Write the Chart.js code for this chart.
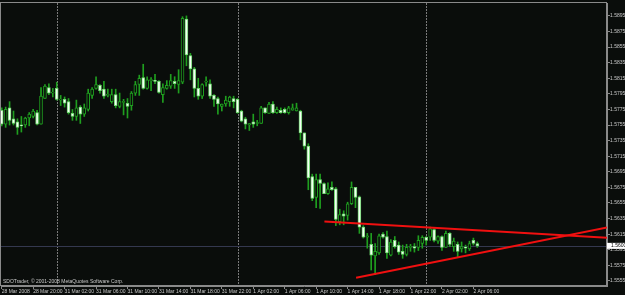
<!DOCTYPE html>
<html>
<head>
<meta charset="utf-8">
<script src="https://cdn.jsdelivr.net/npm/chart.js@4/dist/chart.umd.min.js"></script>
<style>
  html, body { margin: 0; padding: 0; background: #0a0d0b; }
</style>
</head>
<body>
<canvas id="chart" width="625" height="295"></canvas>
<script>
// GBPUSD-ish M30 candles (bar 0 = 28 Mar 16:00)
const opens = [1.5774,1.5756,1.5777,1.5763,1.5759,1.5755,1.5755,1.5764,1.5766,1.5771,
  1.5756,1.5789,1.5803,1.5796,1.5802,1.5787,1.5788,1.5785,1.5770,1.5766,
  1.5778,1.5769,1.5775,1.5793,1.5802,1.5806,1.5801,1.5793,1.5785,1.5794,
  1.5779,1.5784,1.5783,1.5780,1.5796,1.5807,1.5816,1.5802,1.5812,1.5812,
  1.5811,1.5794,1.5802,1.5805,1.5811,1.5807,1.5810,1.5891,1.5844,1.5827,
  1.5802,1.5792,1.5810,1.5808,1.5793,1.5789,1.5779,1.5782,1.5785,1.5789,
  1.5788,1.5773,1.5763,1.5755,1.5759,1.5757,1.5757,1.5777,1.5770,1.5782,
  1.5771,1.5774,1.5775,1.5771,1.5774,1.5773,1.5773,1.5745,1.5728,1.5689,
  1.5662,1.5685,1.5680,1.5667,1.5675,1.5673,1.5631,1.5641,1.5639,1.5654,
  1.5675,1.5663,1.5624,1.5611,1.5602,1.5587,1.5591,1.5615,1.5612,1.5588,
  1.5607,1.5601,1.5593,1.5589,1.5598,1.5599,1.5598,1.5603,1.5611,1.5611,
  1.5621,1.5606,1.5612,1.5598,1.5616,1.5599,1.5602,1.5596,1.5598,1.5596,
  1.5607,1.5603];
const highs = [1.5777,1.5778,1.5785,1.5773,1.5763,1.5766,1.5765,1.5771,1.5775,1.5774,
  1.5803,1.5807,1.5808,1.5802,1.5810,1.5793,1.5791,1.5789,1.5775,1.5787,
  1.5780,1.5782,1.5801,1.5803,1.5817,1.5807,1.5811,1.5801,1.5801,1.5801,
  1.5796,1.5788,1.5789,1.5798,1.5811,1.5819,1.5833,1.5817,1.5816,1.5820,
  1.5812,1.5808,1.5812,1.5820,1.5817,1.5826,1.5894,1.5895,1.5847,1.5829,
  1.5815,1.5808,1.5817,1.5813,1.5794,1.5791,1.5782,1.5792,1.5792,1.5792,
  1.5789,1.5774,1.5765,1.5757,1.5769,1.5761,1.5779,1.5777,1.5784,1.5785,
  1.5778,1.5777,1.5777,1.5779,1.5782,1.5783,1.5774,1.5745,1.5731,1.5692,
  1.5692,1.5692,1.5681,1.5681,1.5682,1.5675,1.5647,1.5645,1.5656,1.5682,
  1.5675,1.5664,1.5626,1.5616,1.5616,1.5603,1.5615,1.5617,1.5619,1.5608,
  1.5612,1.5605,1.5601,1.5602,1.5602,1.5603,1.5613,1.5613,1.5612,1.5624,
  1.5622,1.5613,1.5613,1.5619,1.5617,1.5610,1.5605,1.5605,1.5601,1.5606,
  1.5610,1.5605];
const lows = [1.5754,1.5752,1.5755,1.5755,1.5743,1.5746,1.5752,1.5754,1.5764,1.5755,
  1.5756,1.5789,1.5794,1.5791,1.5787,1.5780,1.5778,1.5769,1.5761,1.5761,
  1.5757,1.5766,1.5773,1.5789,1.5801,1.5796,1.5789,1.5791,1.5783,1.5777,
  1.5777,1.5768,1.5764,1.5774,1.5793,1.5793,1.5801,1.5801,1.5799,1.5808,
  1.5796,1.5784,1.5801,1.5802,1.5802,1.5796,1.5808,1.5831,1.5813,1.5791,
  1.5788,1.5789,1.5805,1.5789,1.5779,1.5769,1.5773,1.5779,1.5779,1.5777,
  1.5770,1.5759,1.5750,1.5748,1.5752,1.5754,1.5757,1.5770,1.5770,1.5770,
  1.5770,1.5770,1.5770,1.5769,1.5774,1.5773,1.5736,1.5724,1.5672,1.5658,
  1.5649,1.5648,1.5667,1.5666,1.5671,1.5626,1.5627,1.5627,1.5633,1.5653,
  1.5649,1.5616,1.5610,1.5597,1.5569,1.5563,1.5589,1.5610,1.5584,1.5587,
  1.5597,1.5589,1.5584,1.5587,1.5593,1.5592,1.5594,1.5597,1.5601,1.5607,
  1.5605,1.5603,1.5594,1.5598,1.5599,1.5593,1.5585,1.5592,1.5591,1.5594,
  1.5601,1.5598];
const closes = [1.5756,1.5775,1.5761,1.5757,1.5752,1.5754,1.5764,1.5769,1.5773,1.5756,
  1.5792,1.5805,1.5796,1.5796,1.5788,1.5787,1.5783,1.5771,1.5766,1.5777,
  1.5769,1.5777,1.5796,1.5801,1.5807,1.5799,1.5792,1.5793,1.5794,1.5780,
  1.5785,1.5784,1.5779,1.5796,1.5807,1.5815,1.5802,1.5813,1.5812,1.5811,
  1.5797,1.5803,1.5806,1.5812,1.5808,1.5812,1.5892,1.5845,1.5827,1.5802,
  1.5792,1.5807,1.5810,1.5792,1.5788,1.5782,1.5782,1.5787,1.5791,1.5785,
  1.5771,1.5760,1.5756,1.5757,1.5756,1.5757,1.5777,1.5771,1.5782,1.5771,
  1.5775,1.5771,1.5771,1.5777,1.5777,1.5777,1.5745,1.5728,1.5687,1.5661,
  1.5685,1.5680,1.5667,1.5673,1.5672,1.5634,1.5640,1.5638,1.5654,1.5675,
  1.5662,1.5624,1.5611,1.5613,1.5588,1.5593,1.5613,1.5611,1.5591,1.5605,
  1.5599,1.5592,1.5589,1.5598,1.5599,1.5597,1.5607,1.5611,1.5607,1.5622,
  1.5607,1.5612,1.5598,1.5616,1.5602,1.5606,1.5593,1.5599,1.5597,1.5603,
  1.5603,1.5600];

// axis labels
const xTickBars = [0, 8, 16, 24, 32, 40, 48, 56, 64, 72, 80, 88, 96, 104, 112, 120];
const xTickLabels = ["28 Mar 2008", "28 Mar 20:00", "31 Mar 02:00", "31 Mar 06:00", "31 Mar 10:00",
  "31 Mar 14:00", "31 Mar 18:00", "31 Mar 22:00", "1 Apr 02:00", "1 Apr 06:00", "1 Apr 10:00",
  "1 Apr 14:00", "1 Apr 18:00", "1 Apr 22:00", "2 Apr 02:00", "2 Apr 06:00"];
const yTickValues = [1.5555, 1.5575, 1.5595, 1.5615, 1.5635, 1.5655, 1.5675, 1.5695, 1.5715,
  1.5735, 1.5755, 1.5775, 1.5795, 1.5815, 1.5835, 1.5855, 1.5875, 1.5895];

const daySeparators = [14, 60, 108];   // first bar of each new day
const bidPrice = 1.5600;
const trendUpper = [{x: 82.1, y: 1.56313}, {x: 154, y: 1.56105}];
const trendLower = [{x: 90.15, y: 1.55591}, {x: 154, y: 1.56235}];
const copyright = "SDOTrader, \u00a9 2001-2008 MetaQuotes Software Corp.";

const BG = '#0a0d0b';
const WICK = '#1f9f1f';

const wickData = highs.map((h, i) => ({x: i, y: [lows[i], h]}));
const bodyData = opens.map((o, i) => ({x: i, y: [o, closes[i]]}));
const bodyFill = opens.map((o, i) => closes[i] < o ? '#f4fff4' : BG);
const bodyBorder = opens.map((o, i) => closes[i] < o ? '#70d870' : WICK);

const mt4Decor = {
  id: 'mt4Decor',
  beforeDraw(chart) {
    const ctx = chart.ctx;
    ctx.save();
    ctx.fillStyle = BG;
    ctx.fillRect(0, 0, chart.width, chart.height);
    ctx.restore();
  },
  beforeDatasetsDraw(chart) {
    const {ctx, chartArea: a, scales: {x, y}} = chart;
    ctx.save();
    ctx.lineWidth = 1;
    // period separators
    ctx.strokeStyle = '#7a7a7a';
    ctx.setLineDash([2, 1]);
    daySeparators.forEach(b => {
      const px = Math.round(x.getPixelForValue(b)) + 0.5;
      ctx.beginPath();
      ctx.moveTo(px, a.top);
      ctx.lineTo(px, a.bottom);
      ctx.stroke();
    });
    ctx.setLineDash([]);
    // bid line
    const py = Math.round(y.getPixelForValue(bidPrice)) + 0.5;
    ctx.strokeStyle = '#34384f';
    ctx.beginPath();
    ctx.moveTo(a.left, py);
    ctx.lineTo(a.right, py);
    ctx.stroke();
    // frame
    ctx.strokeStyle = '#8a8a8a';
    ctx.strokeRect(a.left - 0.5, a.top - 0.5, a.width, a.height);
    ctx.restore();
  },
  afterDraw(chart) {
    const {ctx, chartArea: a, scales: {y}} = chart;
    ctx.save();
    ctx.font = '5px "Liberation Sans"';
    ctx.fillStyle = '#c8c8c8';
    ctx.textBaseline = 'middle';
    ctx.fillText(copyright, a.left + 2, a.bottom - 4);
    // current price tag
    const py = y.getPixelForValue(bidPrice);
    ctx.fillStyle = '#ffffff';
    ctx.fillRect(a.right, py - 3, chart.width - a.right, 6);
    ctx.fillStyle = '#000000';
    ctx.fillText(bidPrice.toFixed(4), a.right + 4, py);
    ctx.restore();
  }
};

new Chart(document.getElementById('chart'), {
  type: 'bar',
  data: {
    datasets: [
      {
        type: 'line', data: trendUpper, borderColor: '#f01010', borderWidth: 2,
        pointRadius: 0, order: 0
      },
      {
        type: 'line', data: trendLower, borderColor: '#f01010', borderWidth: 2,
        pointRadius: 0, order: 0
      },
      {
        data: bodyData, backgroundColor: bodyFill, borderColor: bodyBorder,
        borderWidth: 1, borderSkipped: false, barThickness: 3, minBarLength: 1,
        grouped: false, order: 1
      },
      {
        data: wickData, backgroundColor: WICK, borderWidth: 0,
        barThickness: 1, grouped: false, order: 2
      }
    ]
  },
  options: {
    responsive: false,
    devicePixelRatio: 1,
    animation: false,
    layout: { padding: { left: 1, top: 1, right: 0, bottom: 0 } },
    plugins: { legend: { display: false }, tooltip: { enabled: false } },
    font: { family: 'Liberation Sans' },
    scales: {
      x: {
        type: 'linear', min: -0.18, max: 153.99, offset: false,
        grid: { drawOnChartArea: false, offset: false, tickLength: 3, color: '#8a8a8a' },
        border: { color: '#8a8a8a' },
        afterBuildTicks: s => { s.ticks = xTickBars.map(v => ({value: v})); },
        afterFit: s => { s.height = 9; },
        ticks: {
          autoSkip: false, maxRotation: 0, minRotation: 0, align: 'start', padding: 0,
          color: '#c8c8c8', font: { size: 5, family: 'Liberation Sans' },
          callback: v => xTickLabels[xTickBars.indexOf(v)]
        }
      },
      y: {
        position: 'right', min: 1.55485, max: 1.591156, beginAtZero: false,
        grid: { drawOnChartArea: false, tickLength: 3, color: '#8a8a8a' },
        border: { color: '#8a8a8a' },
        afterBuildTicks: s => { s.ticks = yTickValues.map(v => ({value: v})); },
        afterFit: s => { s.width = 18; },
        ticks: {
          padding: 0, color: '#c8c8c8', font: { size: 5, family: 'Liberation Sans' },
          callback: v => v.toFixed(4)
        }
      }
    }
  },
  plugins: [mt4Decor]
});
</script>
</body>
</html>
